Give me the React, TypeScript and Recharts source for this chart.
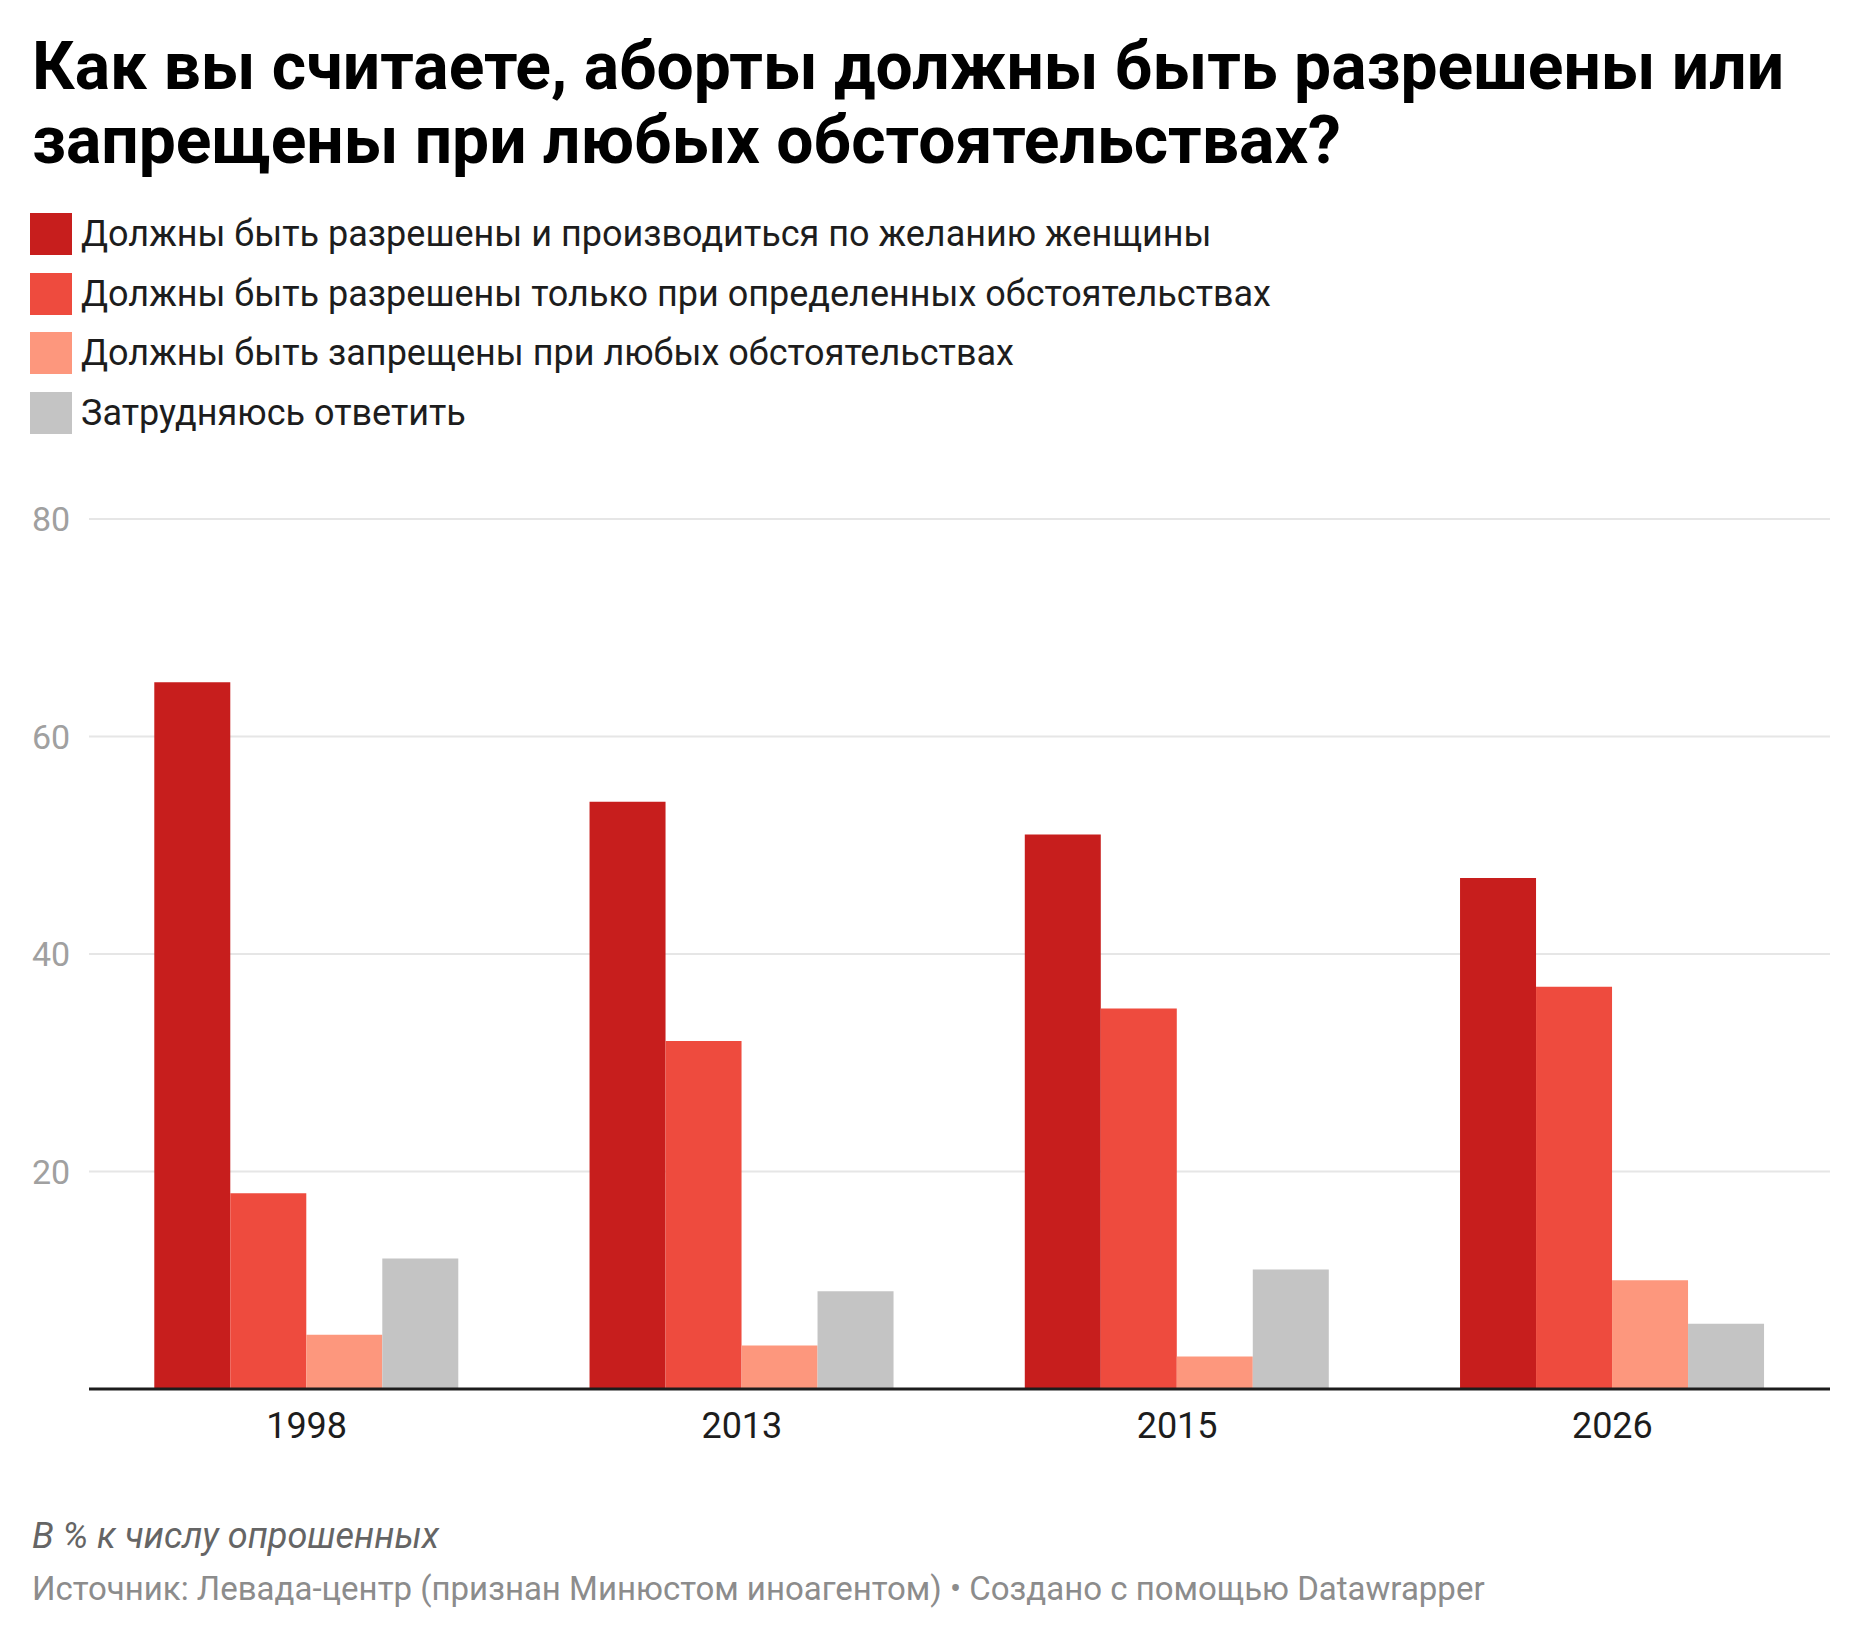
import React from 'react';
import { BarChart, Bar, XAxis, YAxis, CartesianGrid } from 'recharts';

const years = ['1998', '2013', '2015', '2026'];
const allowedOnRequest = [65, 54, 51, 47];
const allowedInSomeCases = [18, 32, 35, 37];
const bannedAlways = [5, 4, 3, 10];
const hardToSay = [12, 9, 11, 6];
const yTicks = [0, 20, 40, 60, 80];

const series = [
  { key: 'onRequest', name: 'Должны быть разрешены и производиться по желанию женщины', color: '#c71e1d', values: allowedOnRequest },
  { key: 'someCases', name: 'Должны быть разрешены только при определенных обстоятельствах', color: '#ee4b3e', values: allowedInSomeCases },
  { key: 'banned', name: 'Должны быть запрещены при любых обстоятельствах', color: '#fd977d', values: bannedAlways },
  { key: 'unsure', name: 'Затрудняюсь ответить', color: '#c4c4c4', values: hardToSay },
];

const data = years.map((year, i) => {
  const row: Record<string, string | number> = { year };
  series.forEach(s => {
    row[s.key] = s.values[i];
  });
  return row;
});

const FONT = 'Roboto, "Noto Sans", sans-serif';

const YTick = (props: any) => {
  const { y, payload } = props;
  if (payload.value === 0) return null;
  return (
    <text x={32} y={y} dy="0.36em" textAnchor="start" fill="#a0a0a0" fontSize={34} fontFamily={FONT}>
      {payload.value}
    </text>
  );
};

const XTick = (props: any) => {
  const { x, y, payload } = props;
  return (
    <text x={x} y={y} dy={41} textAnchor="middle" fill="#1d1d1d" fontSize={36} fontFamily={FONT}>
      {payload.value}
    </text>
  );
};

export default function App() {
  return (
    <div style={{ position: 'absolute', left: 0, top: 0, width: 1860, height: 1644, background: '#fff', fontFamily: FONT, color: '#1d1d1d' }}>
      <div style={{ position: 'absolute', left: 32, top: 30, fontSize: 66, lineHeight: '74px', fontWeight: 700, color: '#000', whiteSpace: 'nowrap' }}>
        Как вы считаете, аборты должны быть разрешены или
        <br />
        запрещены при любых обстоятельствах?
      </div>

      {series.map((s, i) => (
        <div key={s.key} style={{ position: 'absolute', left: 30, top: 213 + i * 59.5, height: 42, display: 'flex', alignItems: 'center', whiteSpace: 'nowrap' }}>
          <div style={{ width: 42, height: 42, background: s.color }} />
          <span style={{ marginLeft: 9, fontSize: 36, lineHeight: '42px', color: '#1d1d1d' }}>{s.name}</span>
        </div>
      ))}

      <div style={{ position: 'absolute', left: 0, top: 480 }}>
        <BarChart
          width={1860}
          height={980}
          data={data}
          margin={{ top: 39, right: 30, left: 32, bottom: 11 }}
          barCategoryGap="15%"
          barGap={0}
        >
          <CartesianGrid vertical={false} stroke="#e6e6e6" strokeWidth={2} />
          <YAxis
            domain={[0, 80]}
            ticks={yTicks}
            width={57}
            axisLine={false}
            tickLine={false}
            tick={<YTick />}
          />
          <XAxis
            dataKey="year"
            height={60}
            tickLine={false}
            axisLine={{ stroke: '#1d1d1d', strokeWidth: 3 }}
            tick={<XTick />}
          />
          {series.map(s => (
            <Bar key={s.key} dataKey={s.key} name={s.name} fill={s.color} isAnimationActive={false} />
          ))}
        </BarChart>
      </div>

      <div style={{ position: 'absolute', left: 32, top: 1518, fontSize: 36, lineHeight: '36px', fontStyle: 'italic', color: '#656565', whiteSpace: 'nowrap' }}>
        В % к числу опрошенных
      </div>
      <div style={{ position: 'absolute', left: 32, top: 1571, fontSize: 33, lineHeight: '36px', color: '#8c8c8c', whiteSpace: 'nowrap' }}>
        Источник: Левада-центр (признан Минюстом иноагентом) • Создано с помощью Datawrapper
      </div>
    </div>
  );
}
